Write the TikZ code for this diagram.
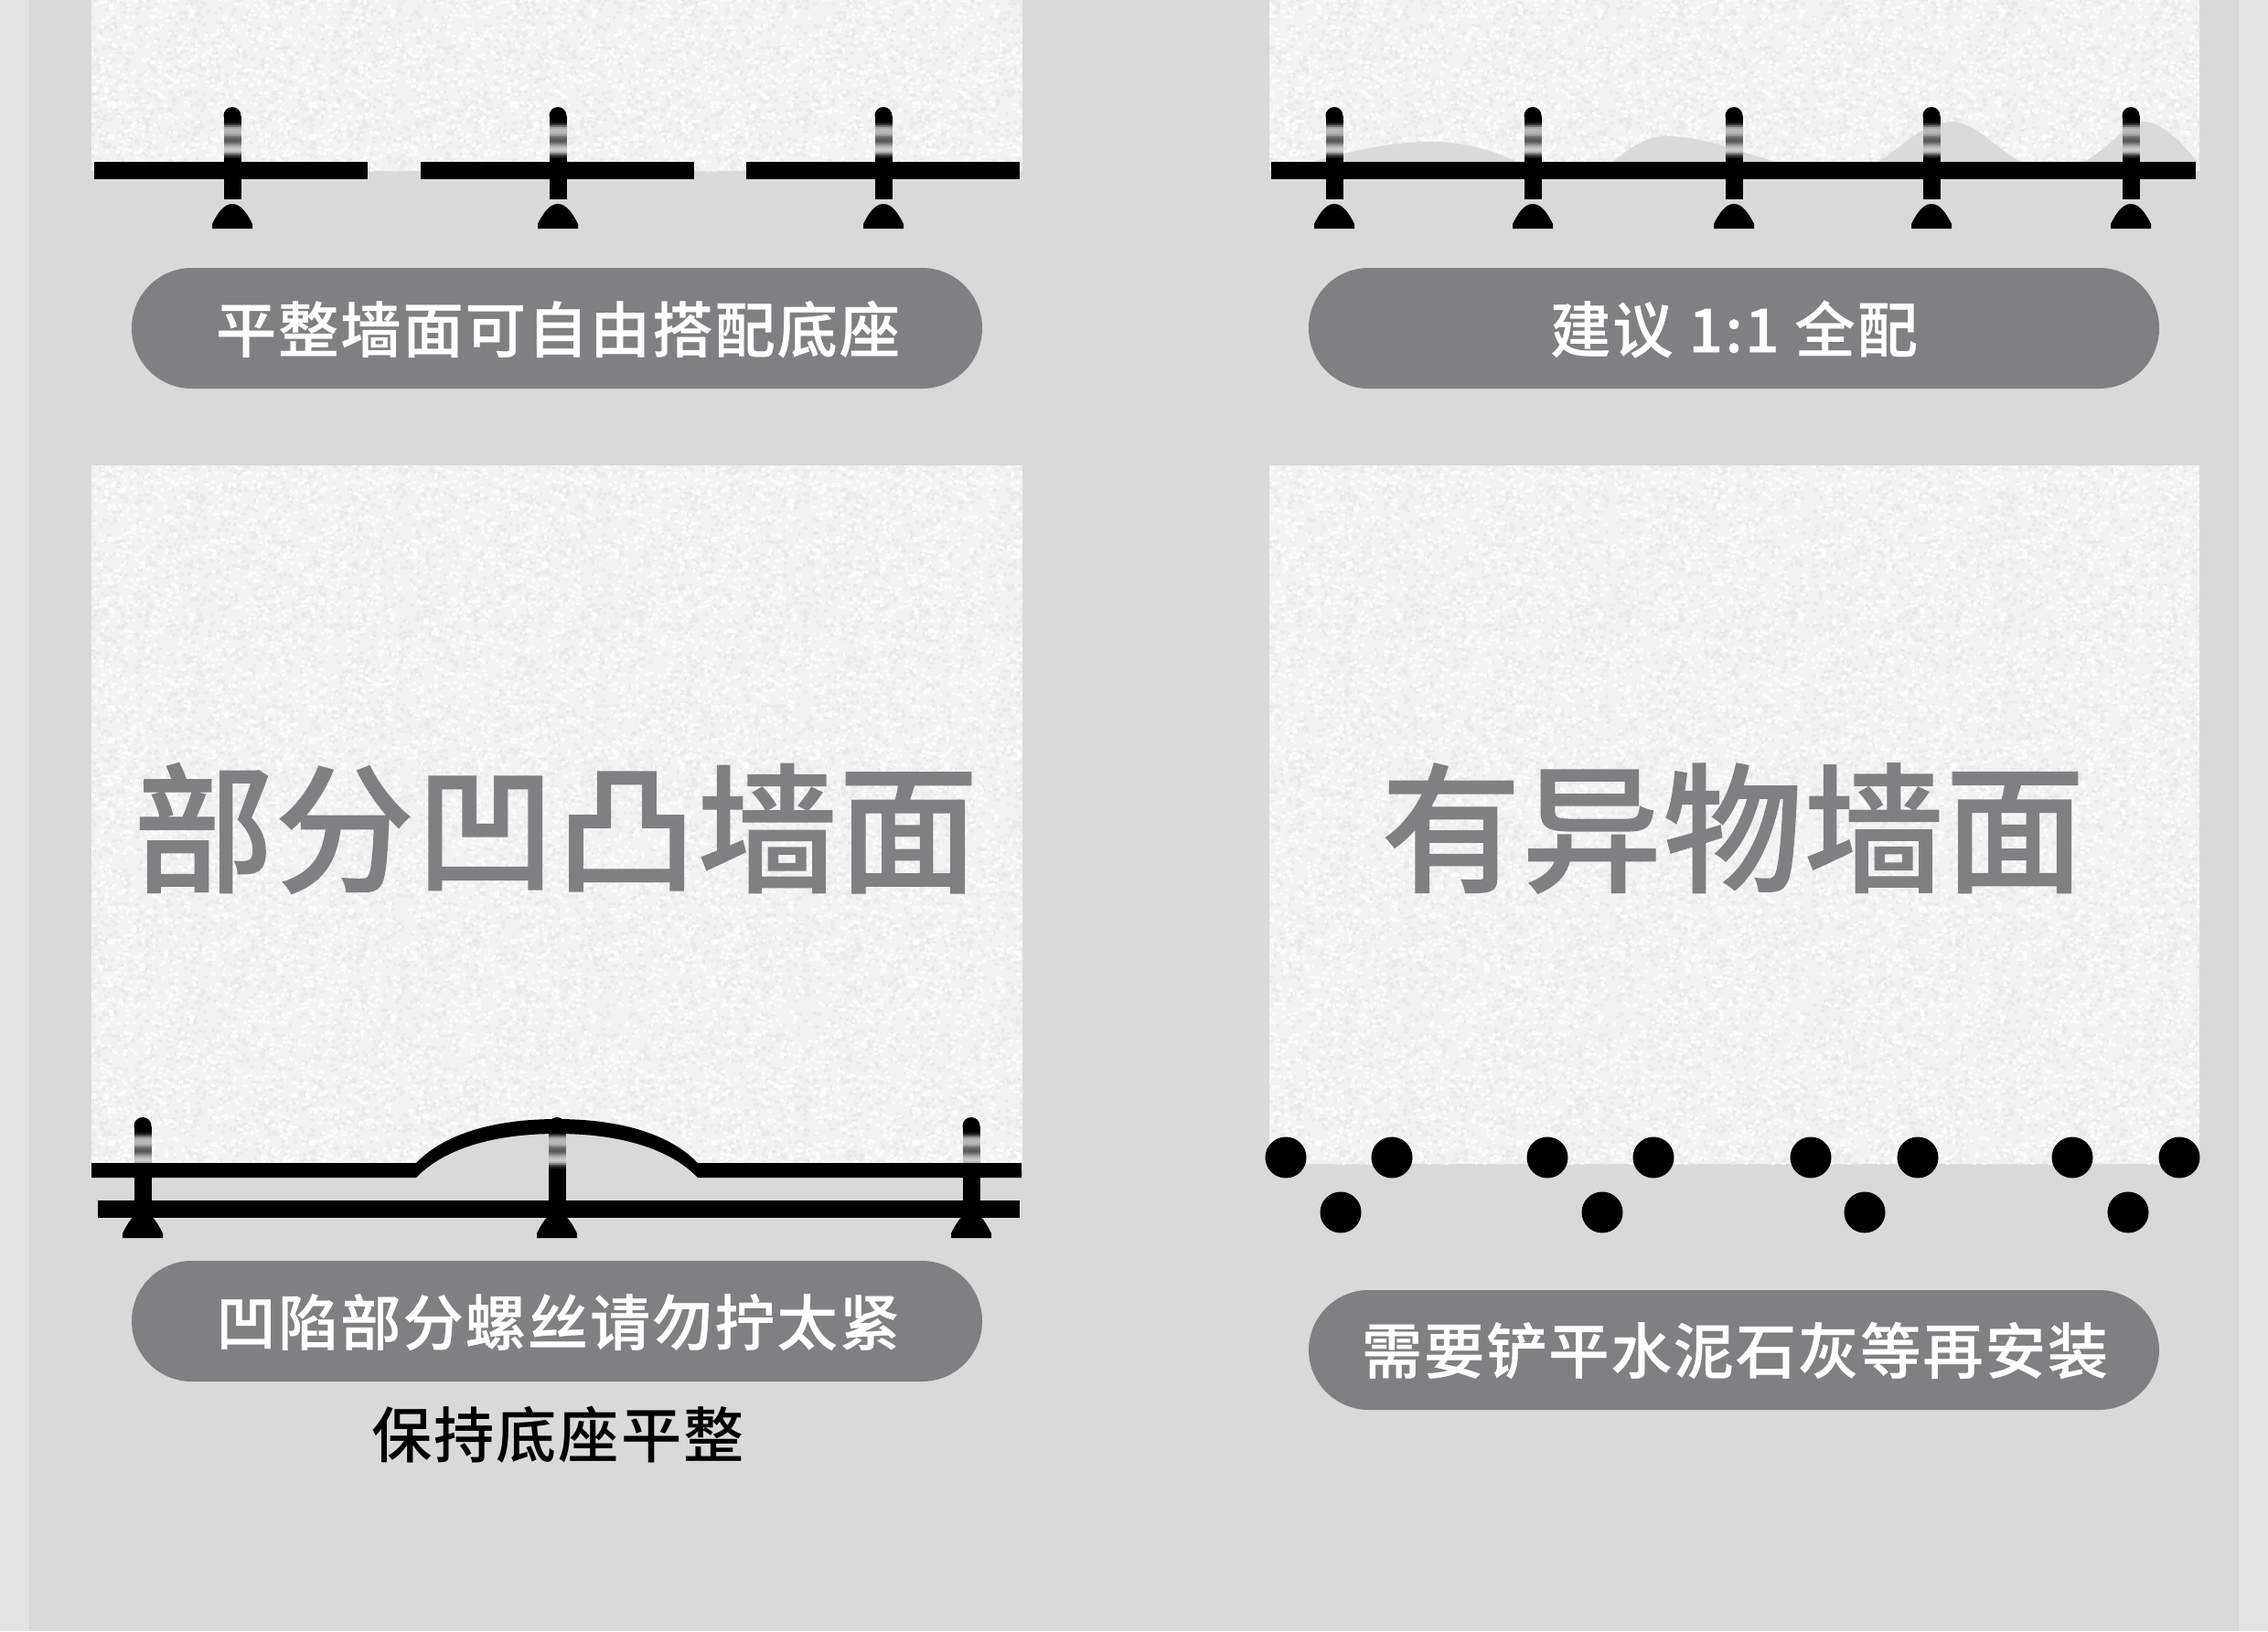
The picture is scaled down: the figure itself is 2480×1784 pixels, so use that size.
\documentclass[tikz,border=0pt]{standalone}
\usepackage{fontspec}
\usetikzlibrary{patterns}
\newfontfamily\cjkmed[LetterSpace=3]{Noto Sans CJK SC Medium}
\newfontfamily\cjkpill[LetterSpace=3,FakeBold=0.5]{Noto Sans CJK SC Medium}
\newfontfamily\cjkbig[LetterSpace=1,FakeBold=0.9]{Noto Sans CJK SC Medium}
\definecolor{outerbg}{HTML}{E3E3E3}
\definecolor{mainbg}{HTML}{D9D9D9}
\definecolor{wallc}{HTML}{F2F2F2}
\definecolor{speck}{HTML}{E9E9E9}
\definecolor{speckw}{HTML}{FBFBFB}
\definecolor{pillc}{HTML}{7F8082}
\definecolor{bigtxt}{HTML}{7F8082}
\definecolor{bumpc}{HTML}{DADADA}
\pgfmathsetseed{4242}
\pgfdeclarepatternformonly{noisetile}{\pgfpointorigin}{\pgfqpoint{90pt}{90pt}}{\pgfqpoint{90pt}{90pt}}{%
  \foreach \i in {1,...,520}{%
    \pgfmathsetmacro{\px}{rnd*88}%
    \pgfmathsetmacro{\py}{rnd*88}%
    \pgfmathsetmacro{\pw}{1.2+rnd*1.4}%
    \pgfpathrectangle{\pgfpoint{\px pt}{\py pt}}{\pgfpoint{\pw pt}{1.6pt}}%
  }%
  \pgfusepath{fill}%
}
\pgfdeclarepatternformonly{noisetileb}{\pgfpointorigin}{\pgfqpoint{110pt}{110pt}}{\pgfqpoint{110pt}{110pt}}{%
  \foreach \i in {1,...,760}{%
    \pgfmathsetmacro{\px}{rnd*108}%
    \pgfmathsetmacro{\py}{rnd*108}%
    \pgfmathsetmacro{\pw}{1.2+rnd*1.4}%
    \pgfpathrectangle{\pgfpoint{\px pt}{\py pt}}{\pgfpoint{\pw pt}{1.6pt}}%
  }%
  \pgfusepath{fill}%
}
\tikzset{
  x=0.5pt,y=-0.5pt,
  wallpanel/.style={fill=wallc,draw=none},
  noiseA/.style={pattern=noisetile,pattern color=speck,draw=none},
  noiseB/.style={pattern=noisetileb,pattern color=speckw,draw=none},
  pillbox/.style={fill=pillc,draw=none,rounded corners=32.9pt},
  pilltext/.style={text=white,font=\cjkpill\fontsize{33.1}{36}\selectfont,inner sep=0pt},
  bigtext/.style={text=bigtxt,font=\cjkbig\fontsize{76.3}{80}\selectfont,inner sep=0pt},
  notetext/.style={text=black,font=\cjkmed\fontsize{33.1}{36}\selectfont,inner sep=0pt},
  railbar/.style={fill=black,draw=none},
  rubble/.style={circle,fill=black,draw=none,inner sep=0pt,minimum size=22.5pt}
}
% #1 x, #2 screw top, #3 screw bottom, #4 anchor top, #5 anchor bottom
\newcommand{\fixing}[5]{%
  \fill[black] (#1,{#2+9.5}) circle[radius=9.5];
  \fill[black] ({#1-9.5},{#2+9.5}) rectangle ({#1+9.5},{#2+16.5});
  \foreach \d/\g in {0/5,2/20,4/45,6/65,8/72,10/72,12/70,14/60,16/45,18/38,20/35,22/42,24/55,26/68,28/76,30/80,32/72,34/50,36/25,38/10}{%
    \pgfmathtruncatemacro{\bk}{100-\g}%
    \fill[black!\bk!white] ({#1-9.5},{#2+16+\d}) rectangle ({#1+9.5},{#2+18.3+\d});}%
  \fill[black] ({#1-9.5},{#2+56}) rectangle ({#1+9.5},{#3});
  \fill[black] ({#1-22},{#5}) -- ({#1-22},{#5-5}) .. controls ({#1-17},{#5-15}) and ({#1-10},{#4}) .. ({#1},{#4}) .. controls ({#1+10},{#4}) and ({#1+17},{#5-15}) .. ({#1+22},{#5-5}) -- ({#1+22},{#5}) -- cycle;
}
\newcommand{\wallthree}{(100,509) -- (1118,509) -- (1118,1280) -- (763,1280) .. controls (728,1244) and (668,1232) .. (609,1232) .. controls (550,1232) and (490,1244) .. (455,1280) -- (100,1280) -- cycle}
\begin{document}
\begin{tikzpicture}
\useasboundingbox (0,0) rectangle (2480,1784);
\fill[outerbg] (0,0) rectangle (2480,1784);
\fill[mainbg] (32,0) rectangle (2448,1784);

% walls
\foreach \st in {wallpanel,noiseA,noiseB}{
  \fill[\st] (100,0) rectangle (1118,187);
  \fill[\st] (1388,0) rectangle (2405,187);
  \fill[\st] \wallthree;
  \fill[\st] (1388,509) rectangle (2405,1273);
}

% bumps of the top-right wall
\fill[bumpc] (1431,178) .. controls (1480,165) and (1520,155) .. (1566,155) .. controls (1600,155) and (1635,165) .. (1661,178) -- cycle;
\fill[bumpc] (1762,178) .. controls (1785,160) and (1800,149) .. (1823,149) .. controls (1860,149) and (1900,165) .. (1945,178) -- cycle;
\fill[bumpc] (2053,178) .. controls (2080,160) and (2105,133) .. (2134,133) .. controls (2160,133) and (2185,165) .. (2212,178) -- cycle;
\fill[bumpc] (2276,178) .. controls (2305,165) and (2325,133) .. (2344,133) .. controls (2365,133) and (2390,160) .. (2403,178) -- cycle;

% top-left rails and fixings
\fill[railbar] (103,177) rectangle (402,196);
\fill[railbar] (460,177) rectangle (759,196);
\fill[railbar] (816,177) rectangle (1115,196);
\fixing{254}{117}{218}{223}{250}
\fixing{610}{117}{218}{223}{250}
\fixing{966}{117}{218}{223}{250}

% top-right rail and fixings
\fill[railbar] (1390,177) rectangle (2401,196);
\fixing{1459}{117}{218}{223}{250}
\fixing{1676}{117}{218}{223}{250}
\fixing{1896}{117}{218}{223}{250}
\fixing{2112}{117}{218}{223}{250}
\fixing{2330}{117}{218}{223}{250}

% lower-left rails
\fixing{156}{1222}{1332}{1326}{1354}
\fixing{1062}{1222}{1332}{1326}{1354}
\fixing{609}{1222}{1332}{1326}{1354}
\fill[railbar] (100,1272) -- (455,1272) .. controls (490,1236) and (550,1224) .. (609,1224) .. controls (668,1224) and (728,1236) .. (763,1272) -- (1117,1272) -- (1117,1288) -- (763,1288) .. controls (728,1252) and (668,1240) .. (609,1240) .. controls (550,1240) and (490,1252) .. (455,1288) -- (100,1288) -- cycle;
\fill[railbar] (107,1313) rectangle (1115,1332);

% rubble
\foreach \n/\x/\y in {a/1406/1266,b/1522/1266,c/1692/1266,d/1808/1266,e/1980/1266,f/2097/1266,g/2266/1266,h/2383/1266,i/1466/1326,j/1752/1326,k/2039/1326,l/2327/1326}
  \node[rubble] (dot\n) at (\x,\y) {};

% pills
\fill[pillbox] (144,293) rectangle (1074,425);
\fill[pillbox] (1431,293) rectangle (2361,425);
\fill[pillbox] (144,1379) rectangle (1074,1511);
\fill[pillbox] (1431,1411) rectangle (2361,1542);

\node[pilltext] (t1) at (610,360) {平整墙面可自由搭配底座};
\node[pilltext] (t2) at (1896,360) {建议 1:1 全配};
\node[pilltext] (t3) at (610,1446) {凹陷部分螺丝请勿拧太紧};
\node[pilltext] (t4) at (1897,1477) {需要铲平水泥石灰等再安装};
\node[notetext] (t5) at (610,1569) {保持底座平整};
\node[bigtext] (t6) at (608,906) {部分凹凸墙面};
\node[bigtext] (t7) at (1895,906) {有异物墙面};
\end{tikzpicture}
\end{document}
